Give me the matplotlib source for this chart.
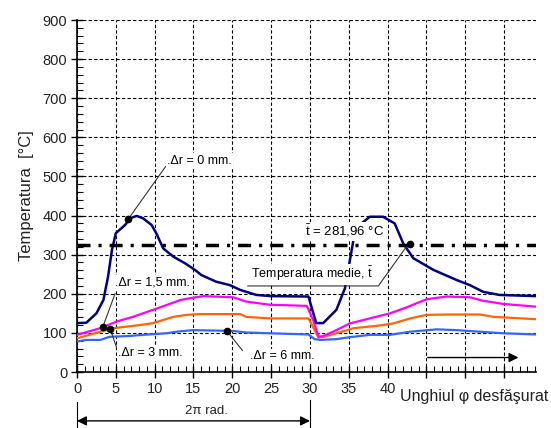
import matplotlib
matplotlib.use("Agg")
import matplotlib.pyplot as plt
from matplotlib.ticker import MultipleLocator

plt.rcParams["font.family"] = ["Liberation Sans", "DejaVu Sans"]
plt.rcParams["mathtext.fontset"] = "custom"
plt.rcParams["mathtext.rm"] = "Liberation Sans"

# --- data --------------------------------------------------------------------
x_dr0 = [0, 1.2, 2.5, 3.4, 4.0, 4.5, 5.0, 6.2, 6.8, 7.7, 8.5, 9.6, 10.2, 11.1, 12.4,
         13.9, 15.2, 16.0, 17.9, 19.7, 21.0, 23.1, 25, 29.8, 30.8, 31.7, 33.4, 34.5,
         35.6, 36.4, 37.7, 39.4, 40.9, 42.0, 43.3, 45.9, 48.9, 50.6, 52.3, 54.4, 59.1]
y_dr0 = [125, 126, 150, 184, 244, 312, 355, 376, 393, 399, 393, 376, 355, 316, 295,
         278, 261, 248, 231, 222, 210, 197, 194, 193, 125, 125, 159, 214,
         338, 376, 397, 397, 380, 329, 291, 261, 235, 222, 205, 197, 194]

x_dr15 = [0, 3.0, 5.1, 7.2, 9.8, 11.5, 13.3, 14.9, 16.3, 20.1, 21.8, 24.8, 29.6, 30.4,
          31.1, 31.7, 33.4, 35.1, 37.7, 40.3, 42.4, 45.0, 47.6, 50.6, 52.3, 54.9, 59.1]
y_dr15 = [95, 112, 129, 141, 159, 171, 184, 190, 194, 191, 180, 172, 169, 133,
          90, 92, 107, 124, 137, 150, 165, 186, 193, 191, 182, 174, 167]

x_dr3 = [0, 3.0, 4.7, 8.1, 9.8, 11.1, 12.4, 14.1, 15.8, 21.0, 21.8, 24.8, 29.8, 30.6,
         31.1, 31.8, 33.4, 35.6, 38.6, 40.7, 42.9, 45.0, 47.6, 51.9, 53.6, 59.1]
y_dr3 = [86, 103, 112, 120, 125, 133, 141, 146, 148, 148, 141, 137, 137, 107,
         88, 90, 99, 112, 118, 124, 137, 146, 147, 147, 141, 135]

x_dr6 = [0, 1.2, 3.0, 4.2, 6.7, 8.5, 11.5, 12.8, 14.9, 20.1, 21.8, 24.8, 29.8, 30.6,
         31.3, 33.4, 35.1, 37.7, 40.3, 42.9, 46.3, 48.9, 51.9, 54.9, 59.1]
y_dr6 = [78, 82, 82, 90, 92, 95, 99, 103, 107, 105, 101, 99, 96, 84,
         82, 84, 89, 95, 95, 103, 109, 107, 103, 99, 96]

t_mean_line = 325
x_ticks = [0, 5, 10, 15, 20, 25, 30, 35, 40, 45, 50, 55]
x_ticklabels = ["0", "5", "10", "15", "20", "25", "30", "35", "40", "", "", ""]

C_DR0 = "#000080"
C_DR15 = "#ff00ff"
C_DR3 = "#ff6600"
C_DR6 = "#3366ff"
TXT = "#222222"

fig = plt.figure(figsize=(5.51, 4.28), dpi=100)
ax = fig.add_axes([77 / 551, 1 - 372 / 428, (536 - 77) / 551, (372 - 20) / 428])

ax.plot(x_dr6, y_dr6, color=C_DR6, lw=1.6, zorder=3)
ax.plot(x_dr3, y_dr3, color=C_DR3, lw=1.6, zorder=3)
ax.plot(x_dr15, y_dr15, color=C_DR15, lw=1.6, zorder=3)
ax.plot(x_dr0, y_dr0, color=C_DR0, lw=1.8, zorder=3)
ax.axhline(t_mean_line, color="black", lw=2.5, ls=(0, (3.75, 2.3, 0.9, 2.3)), zorder=4)

ax.set_xlim(0, 59.1)
ax.set_ylim(0, 900)
ax.set_xticks(x_ticks)
ax.set_xticklabels(x_ticklabels)
ax.yaxis.set_major_locator(MultipleLocator(100))
ax.xaxis.set_minor_locator(MultipleLocator(1))
ax.yaxis.set_minor_locator(MultipleLocator(20))
ax.tick_params(which="major", direction="inout", length=8, width=1, labelsize=10.5,
               labelcolor=TXT, pad=3)
ax.tick_params(which="minor", direction="in", length=4, width=0.8)
ax.grid(True, which="major", color="black", lw=0.8, ls=(0, (3, 2)))
ax.spines["top"].set_visible(False)
ax.spines["right"].set_visible(False)
ax.spines["left"].set_linewidth(1.2)
ax.spines["bottom"].set_linewidth(1.2)
ax.set_ylabel("Temperatura  [°C]", fontsize=12, color=TXT, labelpad=6)

box = dict(facecolor="white", edgecolor="none", pad=1)
dot = dict(marker="o", ms=4.5, color="black", zorder=6)

# leader labels
ax.plot([11.4, 6.6], [525, 391], color="#333333", lw=0.8, zorder=5)
ax.plot(6.6, 391, **dot)
ax.text(11.6, 540, ".Δr = 0 mm.", fontsize=9, va="center", ha="left", bbox=box, zorder=5)

ax.plot([4.9, 3.3], [200, 114], color="#333333", lw=0.8, zorder=5)
ax.plot(3.3, 114, **dot)
ax.text(4.9, 228, ".Δr = 1,5 mm.", fontsize=9, va="center", ha="left", bbox=box, zorder=5)

ax.plot([5.1, 4.3], [62, 109], color="#333333", lw=0.8, zorder=5)
ax.plot(4.3, 109, **dot)
ax.text(5.3, 48, ".Δr = 3 mm.", fontsize=9, va="center", ha="left", bbox=box, zorder=5)

ax.plot([21.3, 19.3], [55, 105], color="#333333", lw=0.8, zorder=5)
ax.plot(19.3, 105, **dot)
ax.text(22.3, 40, ".Δr = 6 mm.", fontsize=9, va="center", ha="left", bbox=box, zorder=5)

ax.plot([22.0, 38.8, 42.4], [220, 220, 320], color="#333333", lw=0.8, zorder=5)
ax.plot(42.9, 326, **dot)
ax.text(30.3, 250, r"Temperatura medie, $\mathrm{\bar{t}}$", fontsize=9, va="center",
        ha="center", bbox=box, zorder=5)
ax.text(34.5, 360, r"$\mathrm{\bar{t}}$ = 281,96 °C", fontsize=9.5, va="center",
        ha="center", bbox=box, zorder=5)

# direction arrow inside the plot
ax.annotate("", xy=(57.2, 37), xytext=(44.8, 37),
            arrowprops=dict(arrowstyle="-|>", color="black", lw=1, mutation_scale=14))

# axis text outside the plot
ax.text(41.6, -62, "Unghiul φ desfăşurat", fontsize=11.5, va="center", ha="left",
        color=TXT, clip_on=False)
ax.annotate("", xy=(0, -125), xytext=(30, -125), annotation_clip=False,
            arrowprops=dict(arrowstyle="<|-|>", color="black", lw=1, mutation_scale=14,
                            shrinkA=0, shrinkB=0))
ax.plot([0, 0], [-77, -145], color="black", lw=0.8, clip_on=False)
ax.plot([30, 30], [-72, -145], color="black", lw=0.8, clip_on=False)
ax.text(16.7, -100, "2π rad.", fontsize=9.5, va="center", ha="center", color=TXT,
        clip_on=False)

fig.savefig("out.png", dpi=100)
plt.close(fig)
